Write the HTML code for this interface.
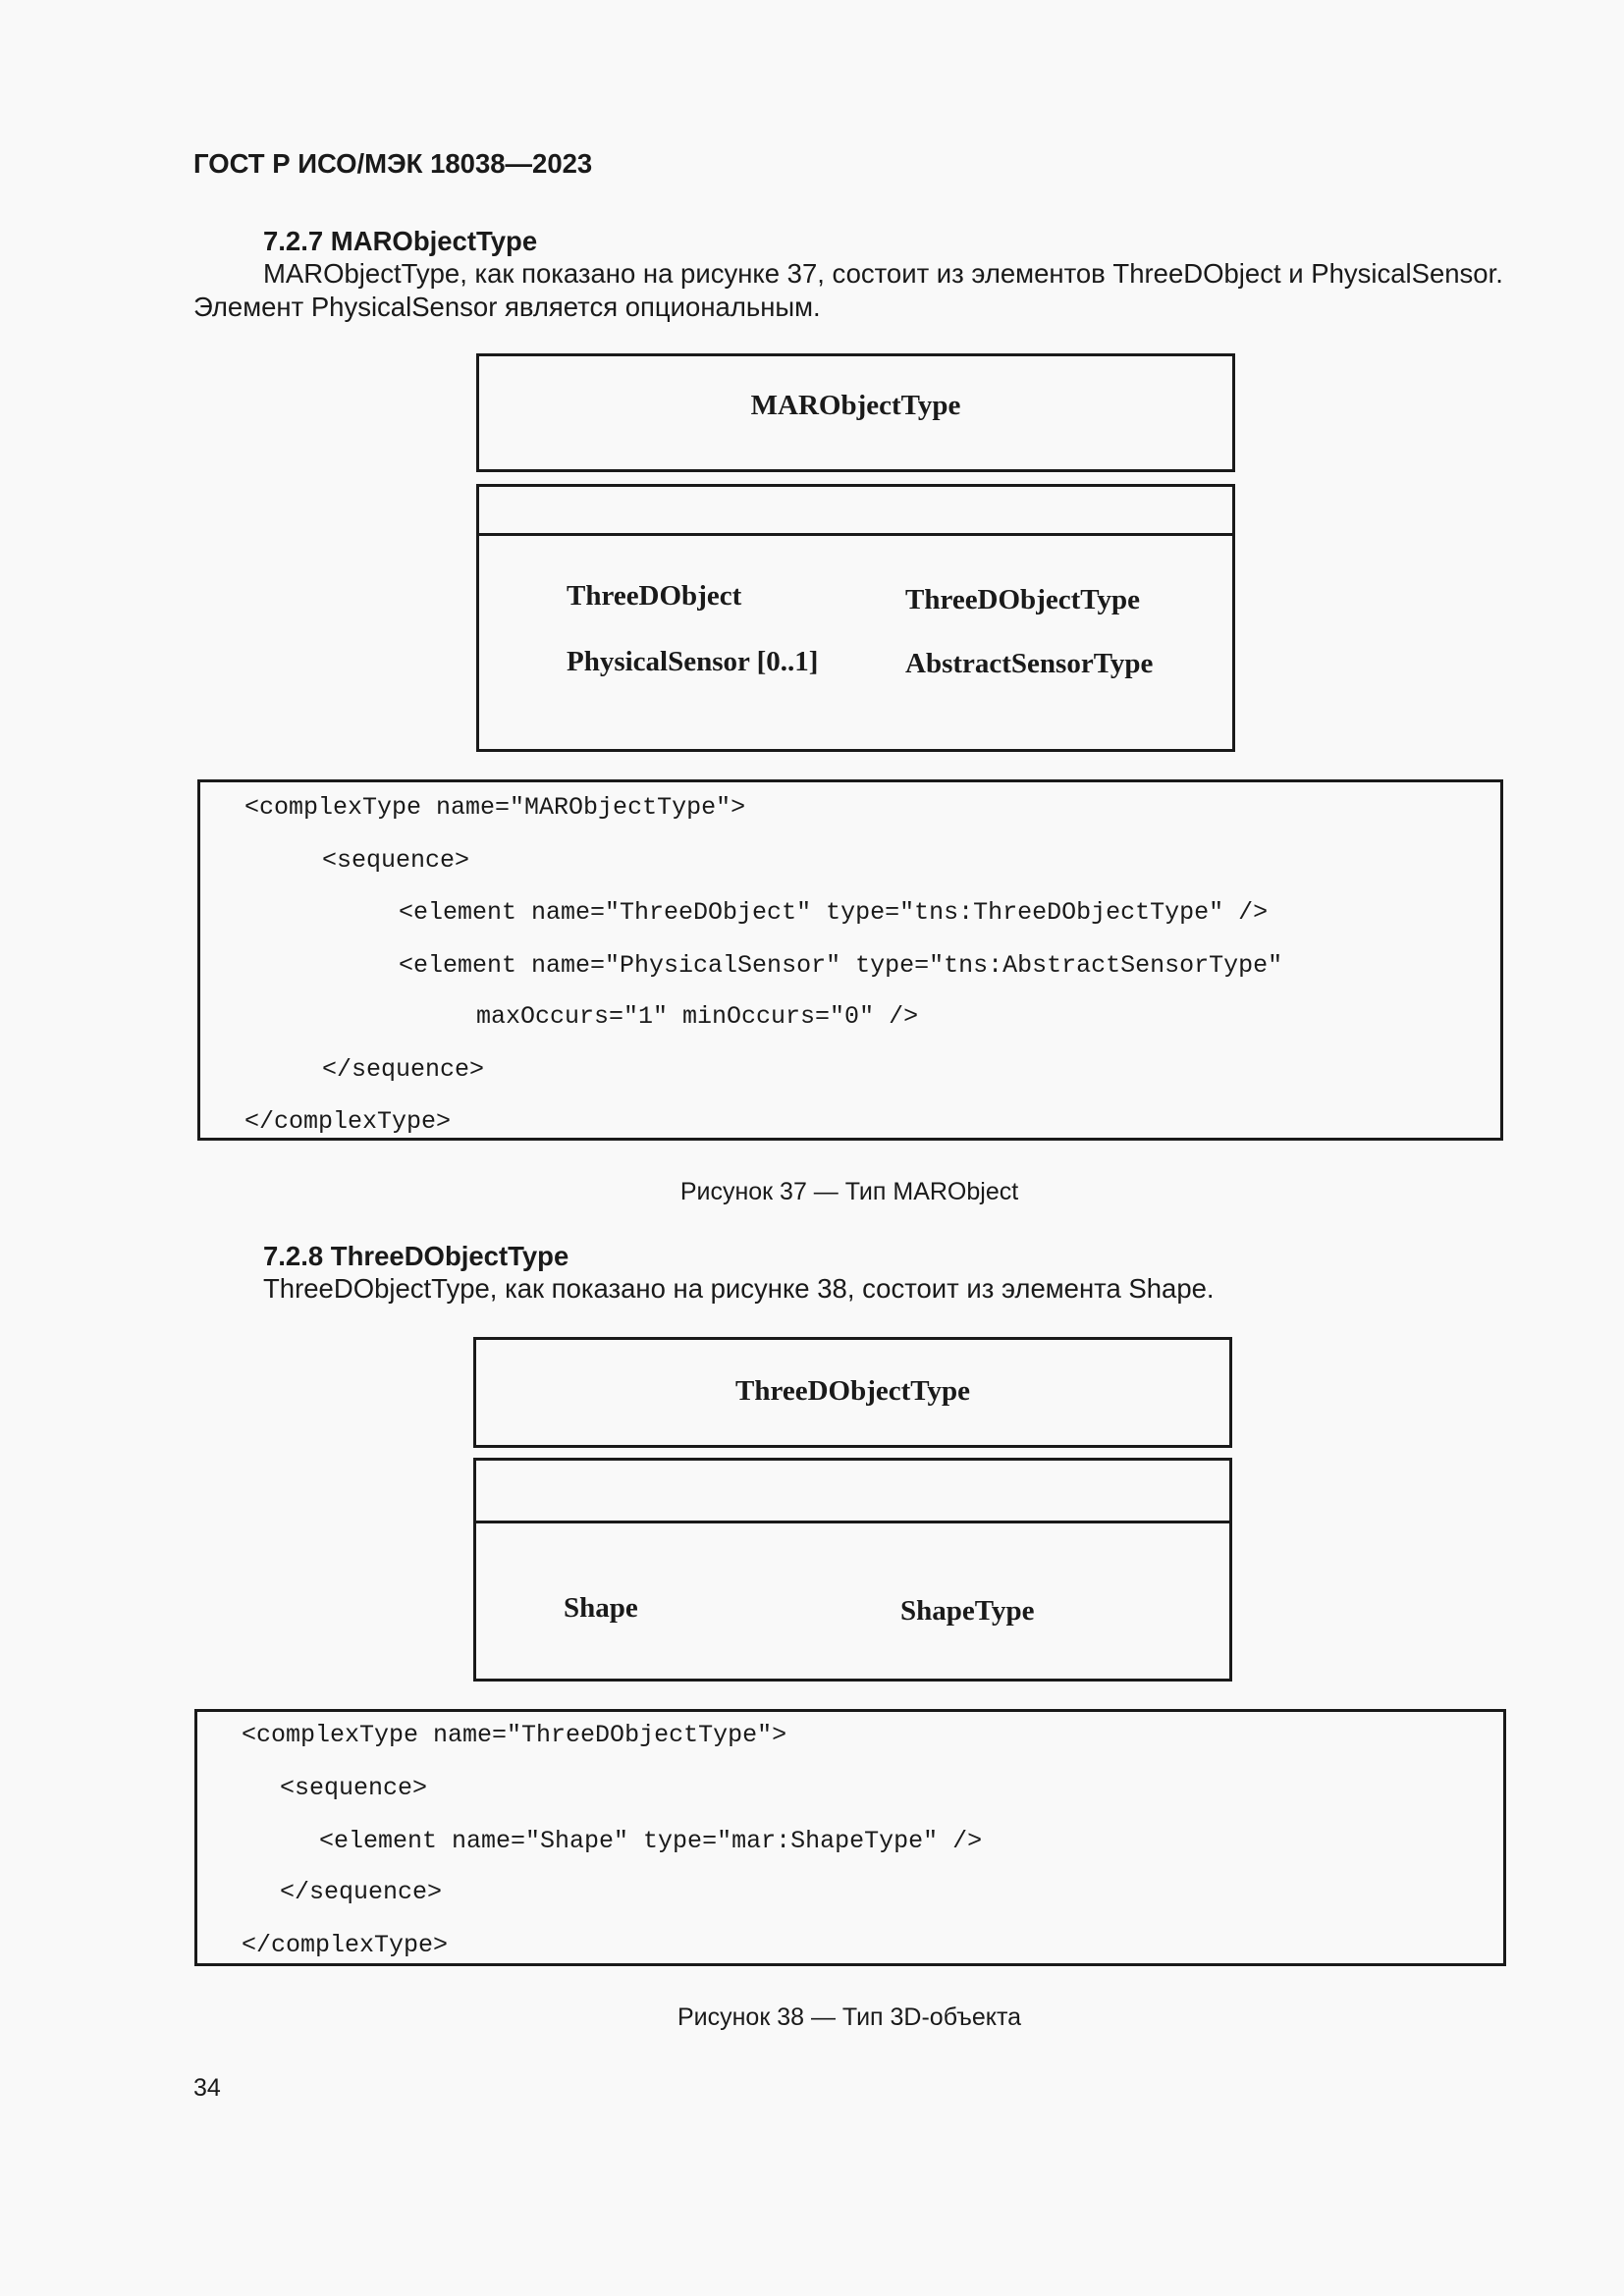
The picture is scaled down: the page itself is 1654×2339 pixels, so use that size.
<!DOCTYPE html>
<html><head><meta charset="utf-8"><style>
body{margin:0;background:#f9f9f9;}
#p{position:relative;width:1654px;height:2339px;overflow:hidden;background:#f9f9f9;color:#1a1a1a;font-family:"Liberation Sans",sans-serif;}
.t{position:absolute;white-space:nowrap;line-height:1;}
.s{font-size:27.5px;}
.b{font-weight:bold;}
.box{position:absolute;border:3px solid #1a1a1a;box-sizing:border-box;}
.hl{position:absolute;height:3px;background:#1a1a1a;}
.d{font-family:"Liberation Serif",serif;font-weight:bold;font-size:29px;}
.m{font-family:"Liberation Mono",monospace;font-size:25px;}
</style></head><body><div id="p">
<div class="t s b" style="left:197px;top:153px;">ГОСТ Р ИСО/МЭК 18038—2023</div>
<div class="t s b" style="left:268px;top:232px;">7.2.7 MARObjectType</div>
<div class="t s" style="left:268px;top:265px;">MARObjectType, как показано на рисунке 37, состоит из элементов ThreeDObject и PhysicalSensor.</div>
<div class="t s" style="left:197px;top:299px;">Элемент PhysicalSensor является опциональным.</div>

<div class="box" style="left:485px;top:360px;width:773px;height:121px;"></div>
<div class="t d" style="left:485px;width:773px;text-align:center;top:399px;">MARObjectType</div>
<div class="box" style="left:485px;top:493px;width:773px;height:273px;"></div>
<div class="hl" style="left:485px;top:543px;width:773px;"></div>
<div class="t d" style="left:577px;top:593px;">ThreeDObject</div>
<div class="t d" style="left:922px;top:597px;">ThreeDObjectType</div>
<div class="t d" style="left:577px;top:660px;">PhysicalSensor [0..1]</div>
<div class="t d" style="left:922px;top:662px;">AbstractSensorType</div>

<div class="box" style="left:201px;top:794px;width:1330px;height:368px;"></div>
<div class="t m" style="left:249px;top:810px;">&lt;complexType name="MARObjectType"&gt;</div>
<div class="t m" style="left:328px;top:864px;">&lt;sequence&gt;</div>
<div class="t m" style="left:406px;top:917px;">&lt;element name="ThreeDObject" type="tns:ThreeDObjectType" /&gt;</div>
<div class="t m" style="left:406px;top:971px;">&lt;element name="PhysicalSensor" type="tns:AbstractSensorType"</div>
<div class="t m" style="left:485px;top:1023px;">maxOccurs="1" minOccurs="0" /&gt;</div>
<div class="t m" style="left:328px;top:1077px;">&lt;/sequence&gt;</div>
<div class="t m" style="left:249px;top:1130px;">&lt;/complexType&gt;</div>

<div class="t s" style="left:0;width:1730px;text-align:center;top:1202px;font-size:25px;">Рисунок 37 — Тип MARObject</div>

<div class="t s b" style="left:268px;top:1266px;">7.2.8 ThreeDObjectType</div>
<div class="t s" style="left:268px;top:1299px;">ThreeDObjectType, как показано на рисунке 38, состоит из элемента Shape.</div>

<div class="box" style="left:482px;top:1362px;width:773px;height:113px;"></div>
<div class="t d" style="left:482px;width:773px;text-align:center;top:1403px;">ThreeDObjectType</div>
<div class="box" style="left:482px;top:1485px;width:773px;height:228px;"></div>
<div class="hl" style="left:482px;top:1549px;width:773px;"></div>
<div class="t d" style="left:574px;top:1624px;">Shape</div>
<div class="t d" style="left:917px;top:1627px;">ShapeType</div>

<div class="box" style="left:198px;top:1741px;width:1336px;height:262px;"></div>
<div class="t m" style="left:246px;top:1755px;">&lt;complexType name="ThreeDObjectType"&gt;</div>
<div class="t m" style="left:285px;top:1809px;">&lt;sequence&gt;</div>
<div class="t m" style="left:325px;top:1863px;">&lt;element name="Shape" type="mar:ShapeType" /&gt;</div>
<div class="t m" style="left:285px;top:1915px;">&lt;/sequence&gt;</div>
<div class="t m" style="left:246px;top:1969px;">&lt;/complexType&gt;</div>

<div class="t s" style="left:0;width:1730px;text-align:center;top:2043px;font-size:25px;">Рисунок 38 — Тип 3D-объекта</div>
<div class="t s" style="left:197px;top:2115px;font-size:25px;">34</div>
</div></body></html>
